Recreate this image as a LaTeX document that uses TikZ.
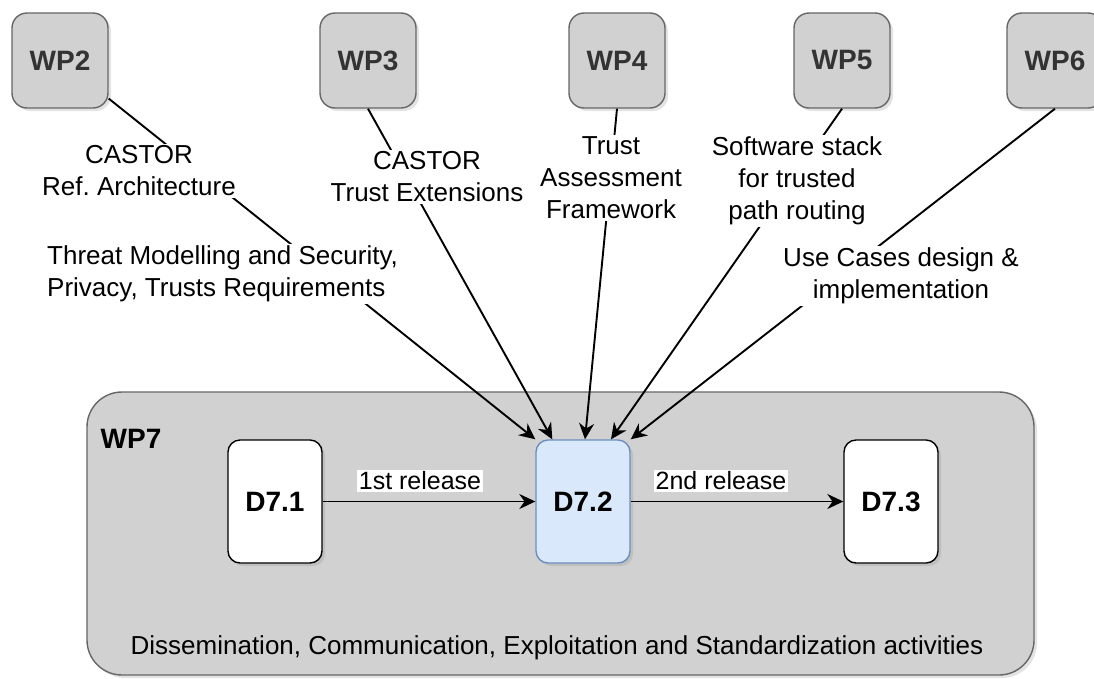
\documentclass[tikz,border=0pt]{standalone}
\usepackage{fontspec}
\setmainfont{Liberation Sans}
\usetikzlibrary{arrows.meta,shadows,calc}
\definecolor{wpgray}{HTML}{D1D1D1}
\definecolor{wpstroke}{HTML}{666666}
\definecolor{wptext}{HTML}{333333}
\definecolor{bluefill}{HTML}{DAE8FC}
\definecolor{bluestroke}{HTML}{6C8EBF}
\frenchspacing
\begin{document}
\begin{tikzpicture}[x=1pt,y=-1pt,
  softshadow/.style={drop shadow={opacity=0.22, shadow xshift=3pt, shadow yshift=-3pt}},
  wpbox/.style={draw=wpstroke, fill=wpgray, rounded corners=15pt, minimum width=96pt, minimum height=95pt, line width=1.4pt, font=\fontsize{28}{32}\selectfont\bfseries, text=wptext, softshadow},
  dbox/.style={draw=black, fill=white, rounded corners=12pt, minimum width=94pt, minimum height=123pt, line width=1.4pt, font=\fontsize{28}{32}\selectfont\bfseries, softshadow},
  conn/.style={line width=1.9pt, -{Stealth[length=16pt,width=15pt]}},
  lbl/.style={fill=white, inner sep=2pt, align=center, font=\fontsize{26}{32}\selectfont},
  rlbl/.style={fill=white, inner sep=2pt, font=\fontsize{25}{30}\selectfont},
  plain/.style={inner sep=0pt, font=\fontsize{26}{32}\selectfont}
]
\useasboundingbox (0,0) rectangle (1094,678);

% WP7 container
\node[draw=wpstroke, fill=wpgray, rounded corners=35pt, minimum width=947pt, minimum height=283pt, line width=1.4pt, softshadow] (wp7box) at (560.5,533.5) {};
\node[inner sep=0pt, font=\fontsize{28}{32}\selectfont\bfseries] (wp7) at (131,439) {WP7};
\node[plain] (diss) at (557,648) {Dissemination, Communication, Exploitation and Standardization activities};

% deliverables
\node[dbox] (d71) at (275,501.5) {D7.1};
\node[dbox, draw=bluestroke, fill=bluefill] (d72) at (583,501.5) {D7.2};
\node[dbox] (d73) at (891,501.5) {D7.3};

% work packages
\node[wpbox] (wp2) at (60,60.5) {WP2};
\node[wpbox] (wp3) at (368,60.5) {WP3};
\node[wpbox] (wp4) at (617,60.5) {WP4};
\node[wpbox] (wp5) at (842,60.5) {WP5};
\node[wpbox] (wp6) at (1055,60.5) {WP6};

% connectors
\draw[conn] (wp2.-38) -- (d72.north west);
\draw[conn] (wp3.south) -- ([xshift=17pt]d72.north west);
\draw[conn] (wp4.south) -- ([xshift=2pt]d72.north);
\draw[conn] (wp5.south) -- ([xshift=28pt]d72.north);
\draw[conn] (wp6.south) -- (d72.north east);
\draw[conn] (d71.east) -- (d72.west);
\draw[conn] (d72.east) -- (d73.west);

% labels
\node[lbl] (l2a) at (139,171) {CASTOR\\Ref. Architecture};
\node[lbl, align=left, anchor=west] (l2b) at (45,274) {Threat Modelling and Security,\\Privacy, Trusts Requirements};
\node[lbl] (l3) at (427,177) {CASTOR\\Trust Extensions};
\node[lbl] (l4) at (611,178) {Trust\\Assessment\\Framework};
\node[lbl] (l5) at (797,181) {Software stack\\for trusted\\path routing};
\node[lbl] (l6) at (901,276) {Use Cases design \&\\implementation};
\node[rlbl] (r1) at (420,481) {1st release};
\node[rlbl] (r2) at (721,481) {2nd release};
\end{tikzpicture}
\end{document}
